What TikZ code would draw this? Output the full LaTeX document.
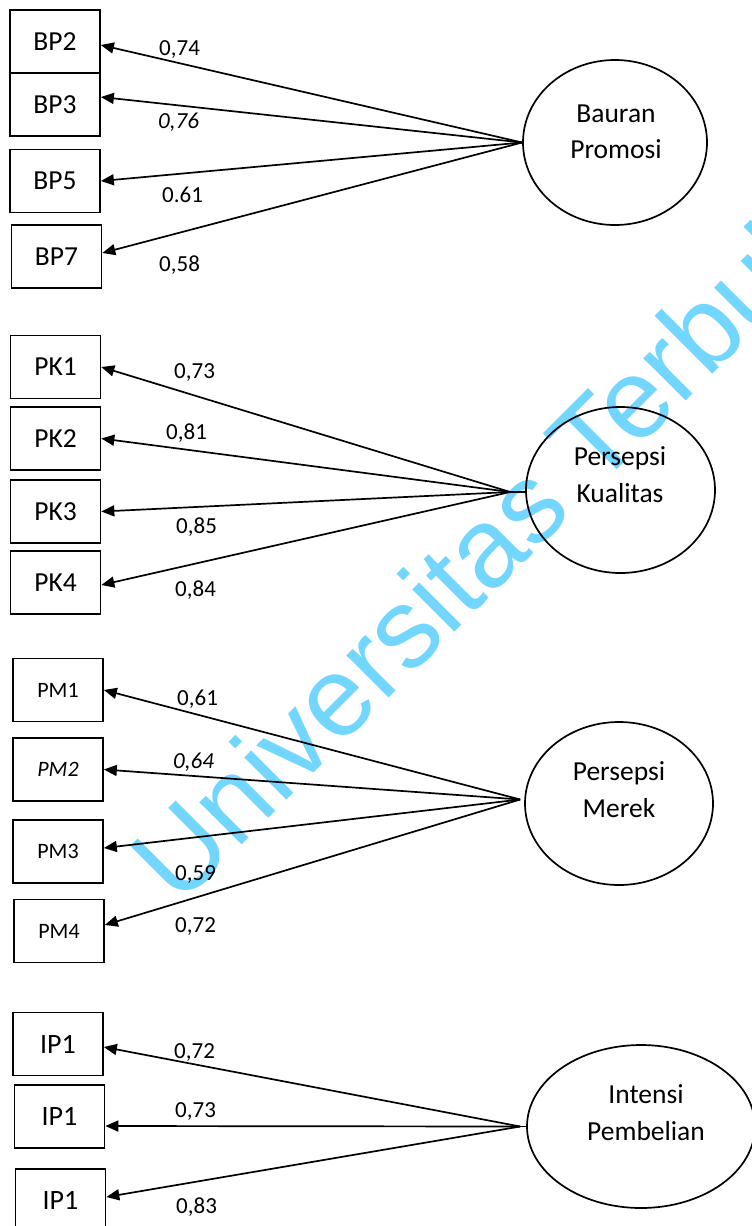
\documentclass[tikz,border=0pt]{standalone}
\usepackage{fontspec}
\setmainfont{Carlito}
\newfontfamily\wmfont{Liberation Sans}
\usetikzlibrary{arrows.meta,shapes.geometric}
\definecolor{wmcyan}{RGB}{115,214,255}
\begin{document}
\begin{tikzpicture}[x=1pt,y=-1pt,
  ind/.style={draw,line width=1.7pt,minimum width=90pt,minimum height=63pt,inner sep=0pt,font=\fontsize{27.5}{30}\selectfont},
  indsm/.style={ind,font=\fontsize{22}{26}\selectfont},
  indip/.style={ind,font=\fontsize{28}{30}\selectfont},
  lat/.style={draw,ellipse,line width=1.7pt,inner sep=0pt},
  lattext/.style={align=center,font=\fontsize{27.5}{36.5}\selectfont,inner sep=0pt},
  load/.style={anchor=base west,font=\fontsize{23}{26}\selectfont,inner sep=0pt},
  arr/.style={-{Triangle[length=13pt,width=11pt]},line width=1.7pt},
  wm/.style={rotate=45,anchor=base west,inner sep=0pt,text=wmcyan,font=\wmfont\fontsize{113}{113}\selectfont}
]
\useasboundingbox (0,0) rectangle (752,1226);
\clip (0,0) rectangle (752,1226);

% watermark
\node[wm] (wmark) at (179,908) {Universitas Terbuka};

% Bauran Promosi block
\node[ind] (bp2) at (55,41.5) {BP2};
\node[ind] (bp3) at (55,104.5) {BP3};
\node[ind] (bp5) at (55,181) {BP5};
\node[ind] (bp7) at (56.5,256.5) {BP7};
\node[lat,minimum width=184pt,minimum height=165pt] (bp) at (615,142.5) {};
\node[lattext] (bpt) at (616,132) {Bauran\\Promosi};
\draw[arr] (bp.west) -- ([yshift=-3.5pt]bp2.east);
\draw[arr] (bp.west) -- ([yshift=7.5pt]bp3.east);
\draw[arr] (bp.west) -- (bp5.east);
\draw[arr] (bp.west) -- ([yshift=3.5pt]bp7.east);
\node[load] (l1) at (159,55) {0,74};
\node[load] (l2) at (158,128) {\itshape 0,76};
\node[load] (l3) at (162,202) {0.61};
\node[load] (l4) at (159,271) {0,58};

% Persepsi Kualitas block
\node[ind] (pk1) at (55.5,367) {PK1};
\node[ind] (pk2) at (55.5,438.5) {PK2};
\node[ind] (pk3) at (55.5,511.5) {PK3};
\node[ind] (pk4) at (55.5,582.5) {PK4};
\node[lat,minimum width=189pt,minimum height=166pt] (pk) at (620.5,490) {};
\node[lattext] (pkt) at (620,474.5) {Persepsi\\Kualitas};
\coordinate (pkc) at ([xshift=-15pt,yshift=-2pt]pk.west);
\draw[line width=2.5pt] (pkc) -- ([yshift=-2pt]pk.west);
\draw[arr] (pkc) -- (pk1.east);
\draw[arr] (pkc) -- (pk2.east);
\draw[arr] (pkc) -- (pk3.east);
\draw[arr] (pkc) -- ([yshift=-2.5pt]pk4.east);
\node[load] (l5) at (174,378) {0,73};
\node[load] (l6) at (166,439) {0,81};
\node[load] (l7) at (176,533) {0,85};
\node[load] (l8) at (175,596) {0,84};

% Persepsi Merek block
\node[indsm] (pm1) at (58,690) {PM1};
\node[indsm] (pm2) at (58,769.5) {\itshape PM2};
\node[indsm] (pm3) at (58,851.5) {PM3};
\node[indsm] (pm4) at (59,931) {PM4};
\node[lat,minimum width=188pt,minimum height=163pt] (pm) at (619,803.5) {};
\node[lattext] (pmt) at (619,789.5) {Persepsi\\Merek};
\coordinate (pmc) at ([xshift=-4pt,yshift=4pt]pm.west);
\draw[arr] (pmc) -- (pm1.east);
\draw[arr] (pmc) -- (pm2.east);
\draw[arr] (pmc) -- ([yshift=3.5pt]pm3.east);
\draw[arr] (pmc) -- ([yshift=6pt]pm4.east);
\node[load] (l9) at (177,705) {0,61};
\node[load] (l10) at (173,768) {\itshape 0,64};
\node[load] (l11) at (175,880) {0,59};
\node[load] (l12) at (175,932) {0,72};

% Intensi Pembelian block
\node[indip] (ip1) at (58,1044) {IP1};
\node[indip] (ip2) at (59.5,1116.5) {IP1};
\node[indip] (ip3) at (60.5,1200.5) {IP1};
\node[lat,minimum width=228pt,minimum height=163pt] (ip) at (641,1126.5) {};
\node[lattext] (ipt) at (646,1112.5) {Intensi\\Pembelian};
\coordinate (ipc) at ([xshift=-6pt]ip.west);
\draw[line width=1.7pt] (ipc) -- (ip.west);
\draw[arr] (ipc) -- ([yshift=-3pt]ip1.east);
\draw[arr] (ipc) -- ([yshift=-9.5pt]ip2.east);
\draw[arr] (ipc) -- ([yshift=3.5pt]ip3.east);
\node[load] (l13) at (174,1058) {0,72};
\node[load] (l14) at (175,1117) {0,73};
\node[load] (l15) at (176,1213) {0,83};
\end{tikzpicture}
\end{document}
